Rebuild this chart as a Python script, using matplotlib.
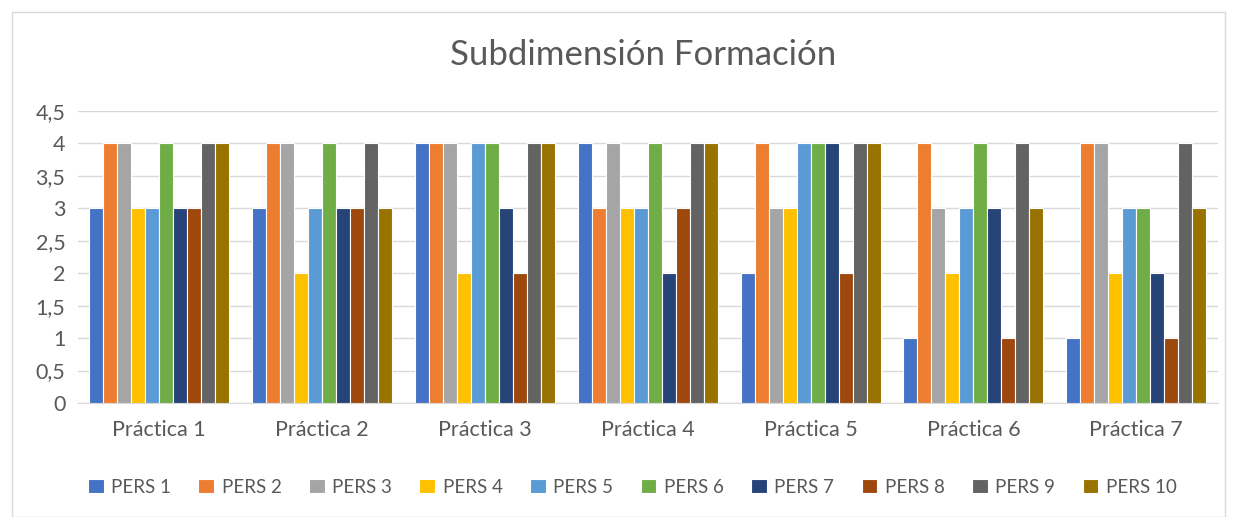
import numpy as np
import matplotlib
matplotlib.use("Agg")
import matplotlib.pyplot as plt
from matplotlib.patches import Rectangle
from matplotlib.ticker import FixedLocator

plt.rcParams['font.family'] = ['Lato', 'DejaVu Sans']

# Data
categories = ["Práctica 1", "Práctica 2", "Práctica 3", "Práctica 4",
              "Práctica 5", "Práctica 6", "Práctica 7"]
series_names = ["PERS 1", "PERS 2", "PERS 3", "PERS 4", "PERS 5",
                "PERS 6", "PERS 7", "PERS 8", "PERS 9", "PERS 10"]
pers1 = [3, 3, 4, 4, 2, 1, 1]
pers2 = [4, 4, 4, 3, 4, 4, 4]
pers3 = [4, 4, 4, 4, 3, 3, 4]
pers4 = [3, 2, 2, 3, 3, 2, 2]
pers5 = [3, 3, 4, 3, 4, 3, 3]
pers6 = [4, 4, 4, 4, 4, 4, 3]
pers7 = [3, 3, 3, 2, 4, 3, 2]
pers8 = [3, 3, 2, 3, 2, 1, 1]
pers9 = [4, 4, 4, 4, 4, 4, 4]
pers10 = [4, 3, 4, 4, 4, 3, 3]
series = [pers1, pers2, pers3, pers4, pers5, pers6, pers7, pers8, pers9, pers10]
yticks = [0, 0.5, 1, 1.5, 2, 2.5, 3, 3.5, 4, 4.5]
ytick_labels = ["0", "0,5", "1", "1,5", "2", "2,5", "3", "3,5", "4", "4,5"]

colors = ["#4472C4", "#ED7D31", "#A5A5A5", "#FFC000", "#5B9BD5",
          "#70AD47", "#264478", "#9E480E", "#636363", "#997300"]

fig = plt.figure(figsize=(12.35, 5.17), dpi=100)
ax = fig.add_axes([0.063, 0.2205, 0.923, 0.565])

x = np.arange(len(categories))
n = len(series)
step = 0.086
width = 0.086
for i, vals in enumerate(series):
    offs = (i - (n - 1) / 2) * step
    ax.bar(x + offs, vals, width, color=colors[i], edgecolor="white",
           linewidth=0.8, label=series_names[i], zorder=3)

ax.set_xlim(-0.5, len(categories) - 0.5)
ax.set_ylim(0, 4.5)
ax.yaxis.set_major_locator(FixedLocator(yticks))
ax.set_yticklabels(ytick_labels)
ax.set_xticks(x)
ax.set_xticklabels(categories)
ax.grid(axis="y", color="#d9d9d9", linewidth=1, zorder=0)
for s in ["top", "right", "left"]:
    ax.spines[s].set_visible(False)
ax.spines["bottom"].set_color("#d9d9d9")
ax.tick_params(axis="both", length=0, labelsize=15.5, colors="#595959")
ax.tick_params(axis="x", pad=12)
ax.tick_params(axis="y", pad=9)

fig.text(0.521, 0.893, "Subdimensión Formación", ha="center", va="center",
         fontsize=25, color="#595959")

leg = fig.legend(loc="center", bbox_to_anchor=(0.512, 0.058), ncol=10,
                 frameon=False, fontsize=13.5, handlelength=0.85, handleheight=0.85,
                 handletextpad=0.4, columnspacing=1.45)
for t in leg.get_texts():
    t.set_color("#595959")

fig.patches.append(Rectangle((0.0097, 0.0), 0.982, 0.977, transform=fig.transFigure,
                             fill=False, edgecolor="#d9d9d9", linewidth=1))

fig.savefig("out.png", dpi=100, facecolor="white")
